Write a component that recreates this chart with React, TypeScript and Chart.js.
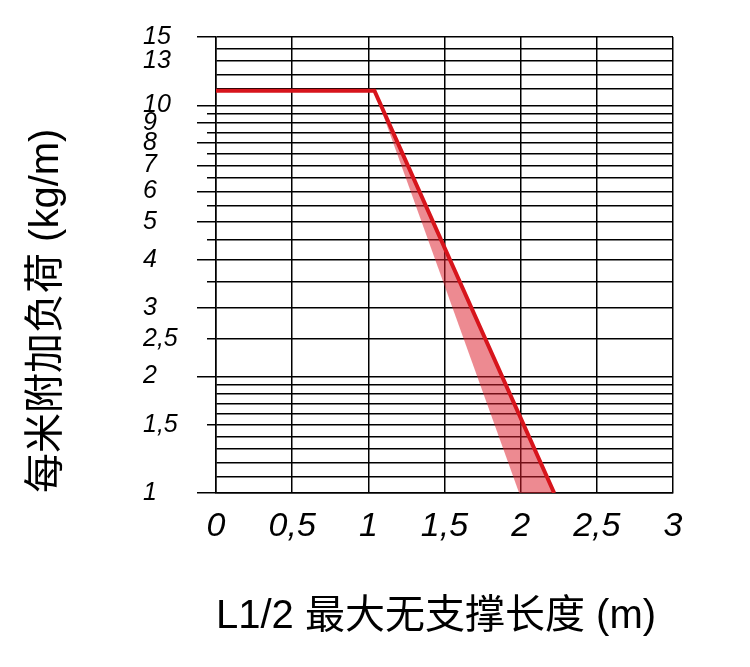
import React, { useEffect, useRef } from 'react';
import { Chart, registerables } from 'chart.js';

Chart.register(...registerables);

// X axis (m)
const xTickValues = [0, 0.5, 1, 1.5, 2, 2.5, 3];

// Y axis (kg/m), logarithmic grid
const yGridValues = [1, 1.1, 1.2, 1.3, 1.4, 1.5, 1.6, 1.7, 1.8, 1.9, 2, 2.5, 3, 3.5, 4, 4.5, 5, 5.5, 6, 6.5, 7, 7.5, 8, 8.5, 9, 9.5, 10, 11, 12, 13, 14, 15];
const yLabelled = [1, 1.5, 2, 2.5, 3, 4, 5, 6, 7, 8, 9, 10, 13, 15];
const yLongTicks = [1, 2, 3, 4, 5, 6, 7, 8, 9, 10, 15];
const yShortTicks = [1.5, 2.5, 3.5, 4.5, 5.5, 6.5, 7.5, 8.5, 9.5];

// Load limit curve
const limitX = [0, 1.04, 2.22];
const limitY = [10.9, 10.9, 1];

// Tolerance band (shaded)
const bandX = [1.04, 1.99, 2.22, 1.04];
const bandY = [10.9, 1, 1, 10.9];

const xTitle = 'L1/2 最大无支撑长度 (m)';
const yTitle = '每米附加负荷 (kg/m)';

const fmt = (v: number) => String(v).replace('.', ',');
const near = (a: number[], v: number) => a.some((x) => Math.abs(x - v) < 1e-6);

export default function App() {
  const ref = useRef<HTMLCanvasElement | null>(null);

  useEffect(() => {
    if (!ref.current) return;
    const chart = new Chart(ref.current, {
      type: 'line',
      data: {
        datasets: [
          {
            data: limitX.map((x, i) => ({ x, y: limitY[i] })),
            borderColor: '#d7151c',
            borderWidth: 4,
            pointRadius: 0,
            fill: false,
            tension: 0,
            borderJoinStyle: 'miter',
          },
          {
            data: bandX.map((x, i) => ({ x, y: bandY[i] })),
            borderWidth: 0,
            borderColor: 'rgba(0,0,0,0)',
            backgroundColor: 'rgba(220,30,45,0.52)',
            pointRadius: 0,
            fill: 'shape',
            tension: 0,
          },
        ],
      },
      options: {
        responsive: false,
        animation: false,
        layout: { padding: { top: 37, right: 77, bottom: 0, left: 0 } },
        plugins: { legend: { display: false }, tooltip: { enabled: false } },
        scales: {
          x: {
            type: 'linear',
            min: 0,
            max: 3,
            afterBuildTicks: (scale: any) => {
              scale.ticks = xTickValues.map((v) => ({ value: v }));
            },
            afterFit: (scale: any) => {
              scale.height = 174;
            },
            grid: { color: '#000', lineWidth: 1.5, drawTicks: false },
            border: { display: true, color: '#000', width: 1.5 },
            ticks: {
              autoSkip: false,
              maxRotation: 0,
              padding: 13,
              color: '#000',
              font: { family: "'Liberation Sans', Arial, sans-serif", size: 34, style: 'italic' },
              callback: (v: any) => fmt(Number(v)),
            },
            title: {
              display: true,
              text: xTitle,
              color: '#000',
              align: 'start',
              font: { family: "'Liberation Sans', 'Noto Sans CJK SC', sans-serif", size: 40 },
              padding: { top: 0, bottom: 26 },
            },
          },
          y: {
            type: 'logarithmic',
            position: 'left',
            weight: 0,
            min: 1,
            max: 15,
            afterBuildTicks: (scale: any) => {
              scale.ticks = yGridValues.map((v) => ({ value: v }));
            },
            afterFit: (scale: any) => {
              scale.width = 73;
            },
            grid: {
              color: '#000',
              lineWidth: 1.5,
              tickLength: 19,
              tickWidth: 1.5,
              tickColor: (ctx: any) => {
                const v = ctx.tick ? ctx.tick.value : 0;
                return near(yLongTicks, v) || near(yShortTicks, v) ? '#000' : 'rgba(0,0,0,0)';
              },
              tickBorderDash: (ctx: any) => {
                const v = ctx.tick ? ctx.tick.value : 0;
                return near(yShortTicks, v) ? [0, 10, 20] : [];
              },
            },
            border: { display: true, color: '#000', width: 1.5 },
            ticks: {
              autoSkip: false,
              crossAlign: 'far',
              padding: 4,
              color: '#000',
              font: { family: "'Liberation Sans', Arial, sans-serif", size: 25, style: 'italic' },
              callback: (v: any) => {
                const n = Number(v);
                return near(yLabelled, n) ? fmt(n) : '';
              },
            },
          },
          yTitleAxis: {
            type: 'linear',
            position: 'left',
            weight: 1,
            min: 0,
            max: 1,
            afterFit: (scale: any) => {
              scale.width = 143;
            },
            grid: { display: false, drawTicks: false },
            border: { display: false },
            ticks: { display: false },
            title: {
              display: true,
              text: yTitle,
              color: '#000',
              align: 'start',
              font: { family: "'Liberation Sans', 'Noto Sans CJK SC', sans-serif", size: 40 },
              padding: { top: 23, bottom: 0 },
            },
          },
        },
      } as any,
    });
    return () => chart.destroy();
  }, []);

  return (
    <div style={{ position: 'absolute', left: 0, top: 0, width: 750, height: 667 }}>
      <canvas ref={ref} width={750} height={667} style={{ display: 'block' }} />
    </div>
  );
}
